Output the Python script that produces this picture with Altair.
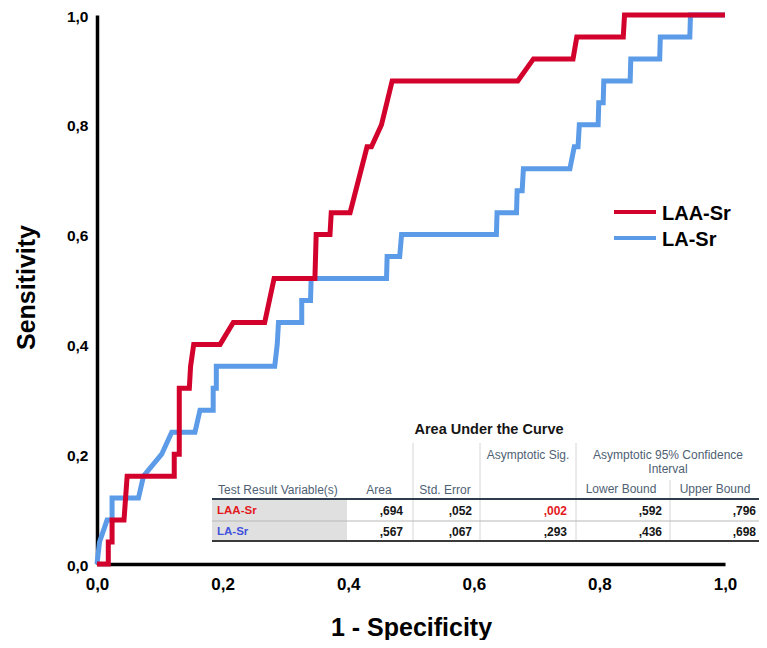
import altair as alt
import pandas as pd

# ---------------- data ----------------
series_names = ["LAA-Sr", "LA-Sr"]
series_colors = ["#d3022c", "#5b9be8"]

laa_fpr = [0.0, 0.018, 0.018, 0.024, 0.024, 0.043, 0.048, 0.123, 0.123, 0.131, 0.131,
           0.147, 0.149, 0.154, 0.196, 0.217, 0.267, 0.282, 0.347, 0.349, 0.371, 0.373,
           0.403, 0.430, 0.437, 0.453, 0.470, 0.670, 0.695, 0.758, 0.764, 0.838, 0.840, 1.0]
laa_tpr = [0.0, 0.0, 0.04, 0.04, 0.08, 0.08, 0.16, 0.16, 0.20, 0.20, 0.32,
           0.32, 0.36, 0.40, 0.40, 0.44, 0.44, 0.52, 0.52, 0.60, 0.60, 0.64,
           0.64, 0.76, 0.76, 0.80, 0.88, 0.88, 0.92, 0.92, 0.96, 0.96, 1.0, 1.0]

la_fpr = [0.0, 0.0, 0.004, 0.016, 0.024, 0.024, 0.066, 0.074, 0.103, 0.119, 0.156, 0.164,
          0.185, 0.185, 0.190, 0.190, 0.283, 0.287, 0.289, 0.326, 0.326, 0.340, 0.341,
          0.461, 0.462, 0.482, 0.485, 0.636, 0.637, 0.668, 0.669, 0.677, 0.679, 0.753,
          0.760, 0.766, 0.768, 0.798, 0.799, 0.806, 0.807, 0.849, 0.850, 0.896, 0.897,
          0.944, 0.945, 1.0]
la_tpr = [0.0, 0.0, 0.04, 0.08, 0.08, 0.12, 0.12, 0.16, 0.20, 0.24, 0.24, 0.28,
          0.28, 0.32, 0.32, 0.36, 0.36, 0.40, 0.44, 0.44, 0.48, 0.48, 0.52,
          0.52, 0.56, 0.56, 0.60, 0.60, 0.64, 0.64, 0.68, 0.68, 0.72, 0.72,
          0.76, 0.76, 0.80, 0.80, 0.84, 0.84, 0.88, 0.88, 0.92, 0.92, 0.96,
          0.96, 1.0, 1.0]

tick_values = [0.0, 0.2, 0.4, 0.6, 0.8, 1.0]

# Area Under the Curve table
tbl_title = "Area Under the Curve"
tbl_vars = ["LAA-Sr", "LA-Sr"]
tbl_var_colors = ["#e3191c", "#4152dc"]
auc_area = [0.694, 0.567]
auc_se = [0.052, 0.067]
auc_sig = [0.002, 0.293]
auc_lower = [0.592, 0.436]
auc_upper = [0.796, 0.698]

FONT = "Liberation Sans"


def cfmt(v):
    return ("%.3f" % v).replace("0.", ",", 1)


# ---------------- layout helpers (reference pixel -> data units) ----------------
PLOT_W, PLOT_H = 628, 549


def fx(px):
    return (px - 97.0) / PLOT_W


def fy(py):
    return (564.0 - py) / PLOT_H


# ---------------- curves ----------------
rows = []
for name, xs, ys in [("LA-Sr", la_fpr, la_tpr), ("LAA-Sr", laa_fpr, laa_tpr)]:
    for i, (a, b) in enumerate(zip(xs, ys)):
        rows.append({"series": name, "x": a, "y": b, "i": i})
curves = pd.DataFrame(rows)

xscale = alt.Scale(domain=[0, 1], nice=False, zero=False)
yscale = alt.Scale(domain=[0, 1], nice=False, zero=False)
label_expr = "replace(format(datum.value, '.1f'), '.', ',')"

xaxis = alt.Axis(values=tick_values, labelExpr=label_expr, grid=False, ticks=False, tickSize=0,
                 domainColor="#000000", domainWidth=3.5, labelFont=FONT, labelFontWeight="bold",
                 labelFontSize=17, labelColor="#000000", labelPadding=12, labelFlush=False,
                 title="1 - Specificity", titleFont=FONT, titleFontSize=25, titleFontWeight="bold",
                 titleColor="#000000", titleBaseline="middle", titleY=63)
yaxis = alt.Axis(values=tick_values, labelExpr=label_expr, grid=False, ticks=False, tickSize=0,
                 domainColor="#000000", domainWidth=3.5, labelFont=FONT, labelFontWeight="bold",
                 labelFontSize=15.5, labelColor="#000000", labelPadding=9, labelFlush=False,
                 labelOffset=1,
                 title="Sensitivity", titleFont=FONT, titleFontSize=25, titleFontWeight="bold",
                 titleColor="#000000", titleBaseline="middle", titleX=-71, titleY=272, titleAngle=-90)

color = alt.Color("series:N", scale=alt.Scale(domain=series_names, range=series_colors), legend=None)

blue_line = alt.Chart(curves[curves.series == "LA-Sr"]).mark_line(strokeWidth=5, strokeJoin="miter").encode(
    x=alt.X("x:Q", scale=xscale, axis=xaxis),
    y=alt.Y("y:Q", scale=yscale, axis=yaxis),
    order="i:Q",
    color=color,
)
red_line = alt.Chart(curves[curves.series == "LAA-Sr"]).mark_line(strokeWidth=5, strokeJoin="miter").encode(
    x="x:Q", y="y:Q", order="i:Q", color=color,
)

# ---------------- legend ----------------
leg = pd.DataFrame({
    "series": series_names,
    "x": [fx(614)] * 2,
    "x2": [fx(656)] * 2,
    "y": [fy(212), fy(238)],
    "ty": [fy(214), fy(239.5)],
    "tx": [fx(662)] * 2,
})
leg_lines = alt.Chart(leg).mark_rule(strokeWidth=4).encode(x="x:Q", x2="x2", y="y:Q", color=color)
leg_text = alt.Chart(leg).mark_text(align="left", baseline="middle", font=FONT, fontSize=20,
                                    fontWeight="bold", color="#000000").encode(
    x="tx:Q", y="ty:Q", text="series:N")

# ---------------- AUC table ----------------
T_LEFT, T_RIGHT = 212, 759
gray_cell = alt.Chart(pd.DataFrame({"x": [fx(T_LEFT)], "x2": [fx(347)], "y": [fy(499)], "y2": [fy(541)]})
                      ).mark_rect(color="#e0e0e0").encode(x="x:Q", x2="x2", y="y:Q", y2="y2")

vlines = pd.DataFrame({
    "x": [fx(413), fx(480), fx(576), fx(670)],
    "y": [fy(443), fy(443), fy(443), fy(480)],
    "y2": [fy(541)] * 4,
})
vrules = alt.Chart(vlines).mark_rule(color="#d6d6d6", strokeWidth=1).encode(x="x:Q", y="y:Q", y2="y2")

hlines = pd.DataFrame({
    "x": [fx(T_LEFT)] * 3,
    "x2": [fx(T_RIGHT)] * 3,
    "y": [fy(499), fy(521), fy(541)],
    "c": ["#2e3d4e", "#b8b8b8", "#3a3a3a"],
    "w": [1.8, 1.0, 1.8],
})
hrules = alt.Chart(hlines).mark_rule().encode(
    x="x:Q", x2="x2", y="y:Q",
    color=alt.Color("c:N", scale=None),
    strokeWidth=alt.StrokeWidth("w:Q", scale=None),
)

title_text = alt.Chart(pd.DataFrame({"x": [fx(489)], "y": [fy(430)], "t": [tbl_title]})).mark_text(
    align="center", baseline="middle", font=FONT, fontSize=14.5, fontWeight="bold", color="#151515"
).encode(x="x:Q", y="y:Q", text="t:N")

hdr_center = pd.DataFrame({
    "t": ["Asymptotic Sig.", "Asymptotic 95% Confidence", "Interval", "Area", "Std. Error",
          "Lower Bound", "Upper Bound"],
    "x": [fx(528), fx(668), fx(668), fx(379), fx(445), fx(621), fx(715)],
    "y": [fy(455), fy(455), fy(469), fy(490), fy(490), fy(489), fy(489)],
})
hdr_c = alt.Chart(hdr_center).mark_text(align="center", baseline="middle", font=FONT, fontSize=12,
                                        color="#4f5f73").encode(x="x:Q", y="y:Q", text="t:N")
hdr_l = alt.Chart(pd.DataFrame({"t": ["Test Result Variable(s)"], "x": [fx(218)], "y": [fy(490)]})).mark_text(
    align="left", baseline="middle", font=FONT, fontSize=12, color="#4f5f73"
).encode(x="x:Q", y="y:Q", text="t:N")

row_y = [fy(511), fy(532)]
row_lbl = alt.Chart(pd.DataFrame({"t": tbl_vars, "c": tbl_var_colors, "x": [fx(217)] * 2, "y": row_y})).mark_text(
    align="left", baseline="middle", font=FONT, fontSize=11.5, fontWeight="bold"
).encode(x="x:Q", y="y:Q", text="t:N", color=alt.Color("c:N", scale=None))

col_right = [fx(403), fx(472), fx(567), fx(662), fx(756)]
val_rows = []
for r in range(2):
    vals = [auc_area[r], auc_se[r], auc_sig[r], auc_lower[r], auc_upper[r]]
    for k, v in enumerate(vals):
        c = "#e3191c" if (k == 2 and r == 0) else "#151515"
        val_rows.append({"t": cfmt(v), "x": col_right[k], "y": row_y[r], "c": c})
values = alt.Chart(pd.DataFrame(val_rows)).mark_text(
    align="right", baseline="middle", font=FONT, fontSize=12, fontWeight="bold"
).encode(x="x:Q", y="y:Q", text="t:N", color=alt.Color("c:N", scale=None))

chart = alt.layer(
    blue_line, red_line, leg_lines, leg_text,
    gray_cell, vrules, hrules, title_text, hdr_c, hdr_l, row_lbl, values,
).properties(
    width=PLOT_W, height=PLOT_H,
    padding={"left": 89, "top": 7, "right": 34, "bottom": 76},
    autosize=alt.AutoSizeParams(type="none"),
    background="#ffffff",
).configure_view(strokeWidth=0)

chart.save("out.html", embed_options={"renderer": "svg", "actions": False})
